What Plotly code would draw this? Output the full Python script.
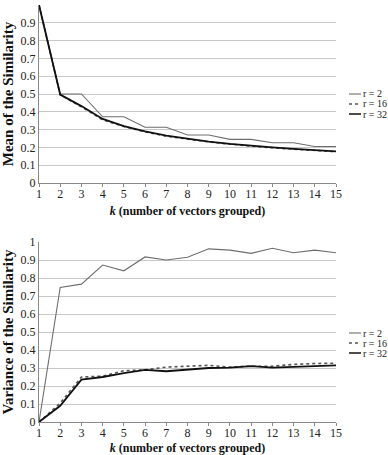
import plotly.graph_objects as go

k = list(range(1, 16))
series_names = ["r = 2", "r = 16", "r = 32"]

mean_r2 = [1.0, 0.5, 0.5, 0.372, 0.372, 0.313, 0.313, 0.27, 0.27, 0.245, 0.245, 0.226, 0.226, 0.205, 0.205]
mean_r16 = [1.0, 0.495, 0.428, 0.355, 0.317, 0.287, 0.263, 0.245, 0.231, 0.218, 0.207, 0.198, 0.19, 0.183, 0.176]
mean_r32 = [1.0, 0.497, 0.432, 0.36, 0.32, 0.29, 0.266, 0.248, 0.233, 0.22, 0.209, 0.2, 0.192, 0.185, 0.178]

var_r2 = [0.0, 0.748, 0.766, 0.872, 0.84, 0.917, 0.9, 0.915, 0.962, 0.955, 0.937, 0.965, 0.94, 0.955, 0.94]
var_r16 = [0.0, 0.105, 0.25, 0.255, 0.285, 0.29, 0.305, 0.31, 0.315, 0.305, 0.31, 0.31, 0.32, 0.325, 0.327]
var_r32 = [0.0, 0.09, 0.235, 0.25, 0.272, 0.29, 0.282, 0.29, 0.3, 0.302, 0.31, 0.302, 0.306, 0.312, 0.315]

y_ticks = [round(i * 0.1, 1) for i in range(11)]
y_tick_text = ["0", "0.1", "0.2", "0.3", "0.4", "0.5", "0.6", "0.7", "0.8", "0.9", "1"]

styles = [
    dict(color="#6e6e6e", width=1.1, dash="solid"),
    dict(color="#555555", width=1.6, dash="dot"),
    dict(color="#111111", width=1.8, dash="solid"),
]

W, H = 388, 455
font = "Liberation Serif"

fig = go.Figure()
for i, ys in enumerate([mean_r2, mean_r16, mean_r32]):
    fig.add_trace(go.Scatter(x=k, y=ys, mode="lines", name=series_names[i],
                             line=styles[i], xaxis="x", yaxis="y", showlegend=False))
for i, ys in enumerate([var_r2, var_r16, var_r32]):
    fig.add_trace(go.Scatter(x=k, y=ys, mode="lines", name=series_names[i],
                             line=styles[i], xaxis="x2", yaxis="y2", showlegend=False))

xdom = [39 / W, 336 / W]
axis_common = dict(
    range=[1, 15], tickmode="array", tickvals=k, ticktext=[str(v) for v in k],
    showgrid=False, zeroline=False, showline=True, linecolor="#8a8a8a", linewidth=1,
    ticks="outside", ticklen=3, tickcolor="#8a8a8a", automargin=False,
    ticklabelstandoff=-3,
    tickfont=dict(family=font, size=12, color="#222"),
)
yaxis_common = dict(
    range=[0, 1.0], tickmode="array", tickvals=y_ticks, ticktext=y_tick_text,
    showgrid=True, gridcolor="#c8c8c8", gridwidth=1, zeroline=False,
    showline=True, linecolor="#8a8a8a", linewidth=1, ticks="", automargin=False,
    tickfont=dict(family=font, size=12, color="#222"),
)
xtitle = "<b><i>k</i> (number of vectors grouped)</b>"
xfont = dict(family=font, size=12, color="#111")
yfont = dict(family=font, size=15, color="#111")

fig.update_layout(
    width=W, height=H, margin=dict(l=0, r=0, t=0, b=0, autoexpand=False),
    paper_bgcolor="white", plot_bgcolor="white",
    xaxis=dict(domain=xdom, anchor="y", **axis_common,
               title=dict(text=xtitle, font=xfont, standoff=6)),
    yaxis=dict(domain=[1 - 183 / H, 1 - 5 / H], anchor="x", **yaxis_common,
               title=dict(text="<b>Mean of the Similarity</b>", font=yfont, standoff=4)),
    xaxis2=dict(domain=xdom, anchor="y2", **axis_common,
                title=dict(text=xtitle, font=xfont, standoff=6)),
    yaxis2=dict(domain=[1 - 422 / H, 1 - 242 / H], anchor="x2", **yaxis_common,
                title=dict(text="<b>Variance of the Similarity</b>", font=yfont, standoff=4)),
    showlegend=False,
)

# manual legends (one per panel)
for top_px in [94, 333]:
    for i, name in enumerate(series_names):
        yp = 1 - (top_px + i * 10) / H
        fig.add_shape(type="line", xref="paper", yref="paper",
                      x0=349 / W, x1=361 / W, y0=yp, y1=yp,
                      line=dict(color=styles[i]["color"], width=min(styles[i]["width"], 1.5),
                                dash=styles[i]["dash"]))
        fig.add_annotation(xref="paper", yref="paper", x=362 / W, y=yp,
                           text=name, showarrow=False, xanchor="left", yanchor="middle",
                           borderpad=0,
                           font=dict(family=font, size=10, color="#222"))

fig.write_html("out.html", config={"displayModeBar": False},
               post_script="document.body.style.margin='0';document.body.style.overflow='hidden';")
